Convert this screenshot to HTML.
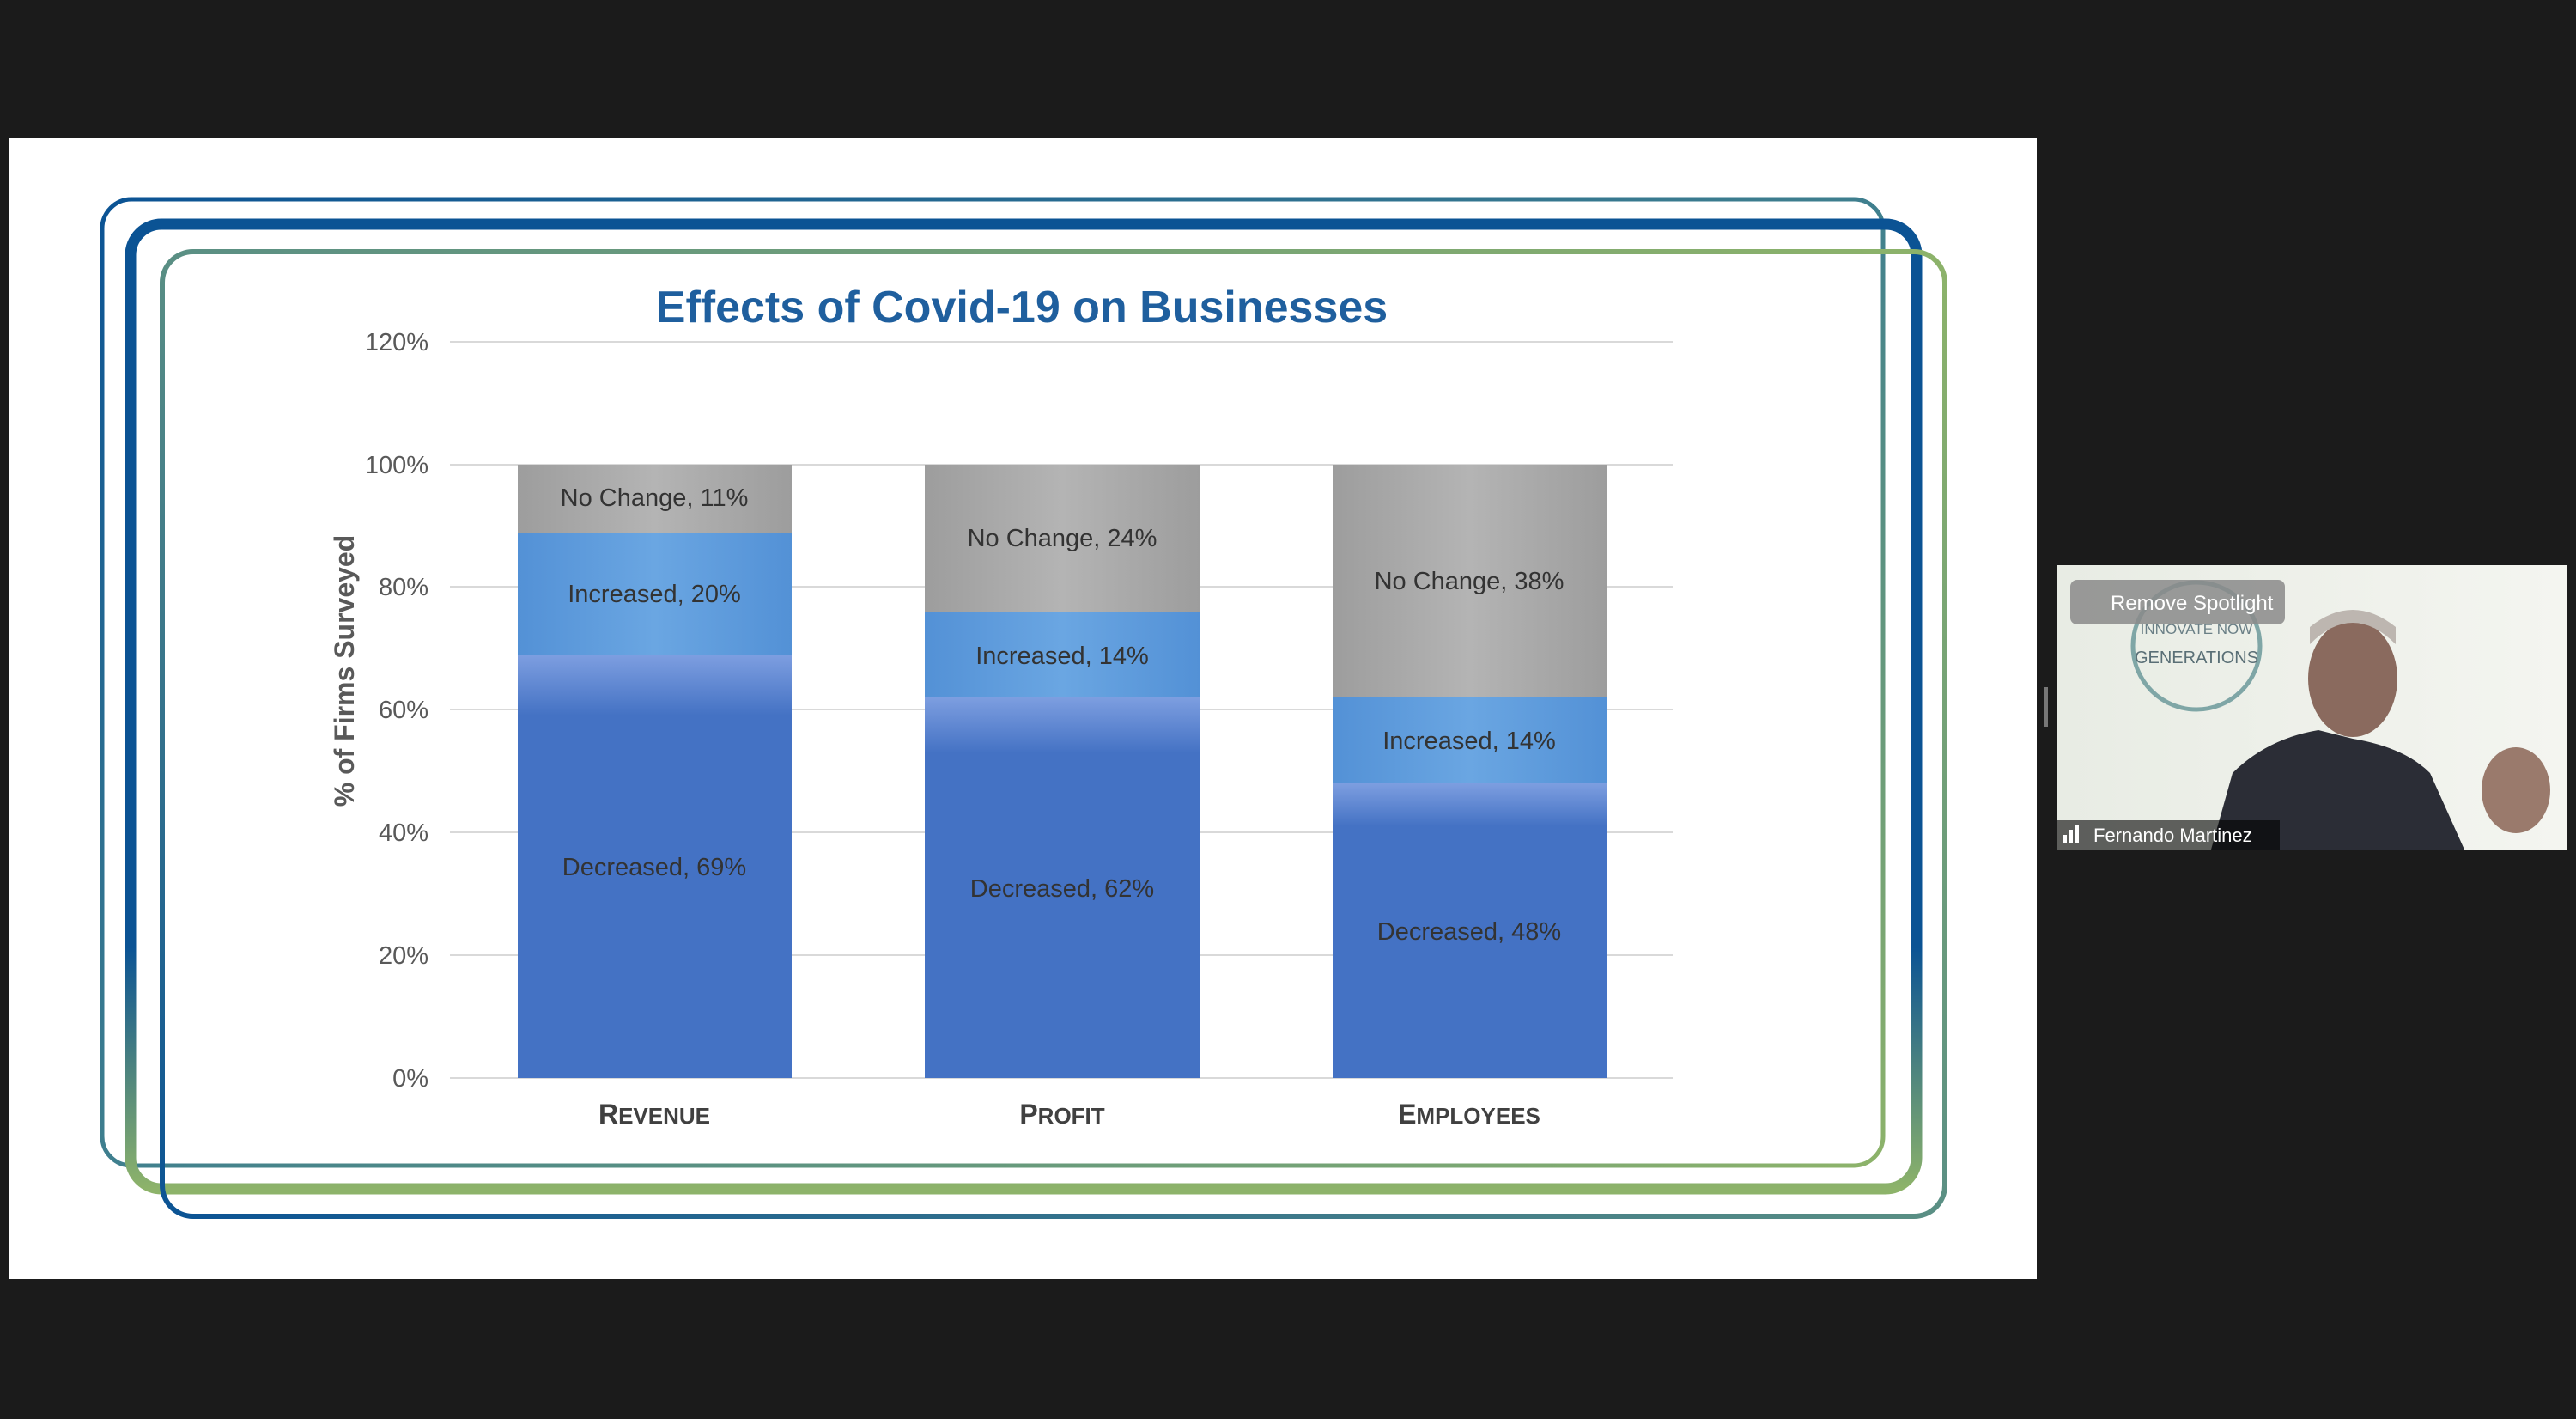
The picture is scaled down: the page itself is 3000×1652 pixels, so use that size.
<!DOCTYPE html>
<html><head><meta charset="utf-8"><style>
html,body{margin:0;padding:0;background:#1b1b1b;}
svg{display:block;}
text{font-family:"Liberation Sans",sans-serif;}
</style></head><body>
<svg width="3000" height="1652" viewBox="0 0 3000 1652" xmlns="http://www.w3.org/2000/svg">
<defs>
<linearGradient id="fr" x1="0" y1="0" x2="1" y2="1">
<stop offset="0" stop-color="#0b5394"/><stop offset="0.5" stop-color="#3f7f8e"/><stop offset="1" stop-color="#8db36a"/></linearGradient>
<linearGradient id="fr2" x1="0" y1="0" x2="0" y2="1">
<stop offset="0" stop-color="#0b5394"/><stop offset="0.75" stop-color="#0b5394"/><stop offset="1" stop-color="#8db36a"/></linearGradient>
<linearGradient id="fr3" x1="1" y1="0" x2="0" y2="1">
<stop offset="0" stop-color="#8db36a"/><stop offset="0.5" stop-color="#5a8f84"/><stop offset="1" stop-color="#0b5394"/></linearGradient>
<linearGradient id="gray" x1="0" y1="0" x2="1" y2="0">
<stop offset="0" stop-color="#9d9d9d"/><stop offset="0.5" stop-color="#b4b4b4"/><stop offset="1" stop-color="#9d9d9d"/></linearGradient>
<linearGradient id="inc" x1="0" y1="0" x2="1" y2="0">
<stop offset="0" stop-color="#5391d6"/><stop offset="0.5" stop-color="#6aa6e2"/><stop offset="1" stop-color="#5391d6"/></linearGradient>
<linearGradient id="dec" x1="0" y1="0" x2="0" y2="1">
<stop offset="0" stop-color="#7d9ee0"/><stop offset="1" stop-color="#4472c4"/></linearGradient>
<linearGradient id="vid" x1="0" y1="0" x2="1" y2="0">
<stop offset="0" stop-color="#e8ece4"/><stop offset="1" stop-color="#f4f5f0"/></linearGradient>
</defs>
<rect x="11" y="161" width="2361" height="1328" fill="#ffffff"/>
<rect x="119" y="232" width="2074" height="1125" rx="34" fill="none" stroke="url(#fr)" stroke-width="5"/>
<rect x="152" y="261" width="2080" height="1123" rx="36" fill="none" stroke="url(#fr2)" stroke-width="13"/>
<rect x="189" y="293" width="2076" height="1123" rx="36" fill="none" stroke="url(#fr3)" stroke-width="6"/>
<text x="1190" y="375" font-size="52" font-weight="bold" fill="#1f5f9e" text-anchor="middle">Effects of Covid-19 on Businesses</text>
<g stroke="#d9d9d9" stroke-width="2">
<line x1="524" y1="398" x2="1948" y2="398"/><line x1="524" y1="541" x2="1948" y2="541"/>
<line x1="524" y1="683" x2="1948" y2="683"/><line x1="524" y1="826" x2="1948" y2="826"/>
<line x1="524" y1="969" x2="1948" y2="969"/><line x1="524" y1="1112" x2="1948" y2="1112"/>
<line x1="524" y1="1255" x2="1948" y2="1255"/></g>
<g font-size="29" fill="#595959" text-anchor="end">
<text x="499" y="408">120%</text><text x="499" y="551">100%</text><text x="499" y="693">80%</text>
<text x="499" y="836">60%</text><text x="499" y="979">40%</text><text x="499" y="1122">20%</text><text x="499" y="1265">0%</text></g>
<text transform="translate(412,781) rotate(-90)" font-size="32" font-weight="bold" fill="#595959" text-anchor="middle">% of Firms Surveyed</text>
<rect x="603" y="541" width="319" height="79" fill="url(#gray)"/>
<rect x="603" y="620" width="319" height="143" fill="url(#inc)"/>
<rect x="603" y="763" width="319" height="492" fill="#4472c4"/>
<rect x="603" y="763" width="319" height="70" fill="url(#dec)"/>
<rect x="1077" y="541" width="320" height="172" fill="url(#gray)"/>
<rect x="1077" y="712" width="320" height="101" fill="url(#inc)"/>
<rect x="1077" y="812" width="320" height="443" fill="#4472c4"/>
<rect x="1077" y="812" width="320" height="65" fill="url(#dec)"/>
<rect x="1552" y="541" width="319" height="272" fill="url(#gray)"/>
<rect x="1552" y="812" width="319" height="101" fill="url(#inc)"/>
<rect x="1552" y="912" width="319" height="343" fill="#4472c4"/>
<rect x="1552" y="912" width="319" height="50" fill="url(#dec)"/>
<g font-size="29" fill="#333" text-anchor="middle">
<text x="762" y="589">No Change, 11%</text><text x="762" y="701">Increased, 20%</text><text x="762" y="1019">Decreased, 69%</text>
<text x="1237" y="636">No Change, 24%</text><text x="1237" y="773">Increased, 14%</text><text x="1237" y="1044">Decreased, 62%</text>
<text x="1711" y="686">No Change, 38%</text><text x="1711" y="872">Increased, 14%</text><text x="1711" y="1094">Decreased, 48%</text></g>
<g font-size="32" font-weight="bold" fill="#404040" text-anchor="middle">
<text x="762" y="1308">R<tspan font-size="26">EVENUE</tspan></text>
<text x="1237" y="1308">P<tspan font-size="26">ROFIT</tspan></text>
<text x="1711" y="1308">E<tspan font-size="26">MPLOYEES</tspan></text></g>
<rect x="2381" y="800" width="4" height="46" fill="#777"/>
<rect x="2395" y="658" width="594" height="331" fill="url(#vid)"/>
<circle cx="2558" cy="752" r="74" fill="none" stroke="#7fa6a6" stroke-width="5"/>
<text x="2558" y="738" font-size="17" fill="#6a7f86" text-anchor="middle">INNOVATE NOW</text>
<text x="2558" y="772" font-size="20" fill="#5a6f76" text-anchor="middle">GENERATIONS</text>
<path d="M2575 989 L2600 900 Q2640 860 2700 850 L2740 860 Q2800 870 2830 900 L2870 989 Z" fill="#2b2d36"/>
<ellipse cx="2740" cy="790" rx="52" ry="68" fill="#8a6a5e"/>
<path d="M2690 750 Q2740 700 2790 750 L2790 730 Q2740 690 2690 730Z" fill="#bdb6b0"/>
<ellipse cx="2930" cy="920" rx="40" ry="50" fill="#9a7a6c"/>
<rect x="2411" y="675" width="250" height="52" rx="8" fill="#8a8a8a" opacity="0.85"/>
<text x="2458" y="710" font-size="24" fill="#fff">Remove Spotlight</text>
<rect x="2395" y="955" width="260" height="34" fill="#000" opacity="0.6"/>
<rect x="2403" y="972" width="4" height="10" fill="#fff"/><rect x="2410" y="966" width="4" height="16" fill="#fff"/><rect x="2417" y="961" width="4" height="21" fill="#fff"/>
<text x="2438" y="980" font-size="22" fill="#fff">Fernando Martinez</text>
</svg>
</body></html>
